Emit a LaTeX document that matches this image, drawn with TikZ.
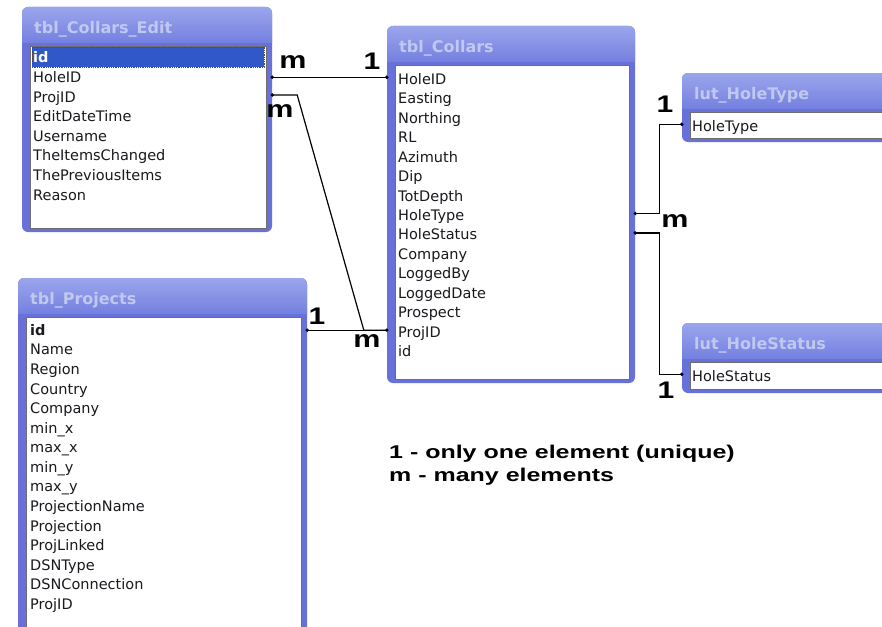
\documentclass[tikz,border=0pt]{standalone}
\usepackage{fontspec}
\setmainfont{DejaVu Sans}
\newfontfamily\legendfont{Liberation Sans}
\usetikzlibrary{fit,calc}
\definecolor{frameblue}{RGB}{104,112,218}
\definecolor{titletop}{RGB}{155,165,236}
\definecolor{titlebot}{RGB}{116,128,224}
\definecolor{titletext}{RGB}{192,200,240}
\definecolor{selblue}{RGB}{48,88,200}
\definecolor{fieldtext}{RGB}{25,25,30}
\definecolor{innerline}{RGB}{110,110,110}
\tikzset{
  fld/.style={anchor=base west, inner sep=0pt, text=fieldtext, text height=11pt, text depth=3pt,
              font=\fontsize{14.5}{17}\selectfont},
  ttl/.style={anchor=west, inner sep=0pt, text=titletext, font=\bfseries\fontsize{16}{19}\selectfont},
  card/.style={inner sep=0pt, font=\legendfont\bfseries\fontsize{24}{28}\selectfont},
  legend/.style={anchor=base west, inner sep=0pt, font=\legendfont\bfseries\fontsize{18.5}{22}\selectfont},
  conn/.style={draw=black, line width=1.2pt},
  enddot/.style={fill=black},
  frame/.style={inner sep=0pt, fill=frameblue, rounded corners=6pt}
}
\newcommand\dbtable[6]{%
  \node[frame, fit={(#2,#3)(#4,#5)}] (#1) {};
  \shade[top color=titletop, bottom color=titlebot]
     [rounded corners=6pt] (#2,#3+36) -- (#2,#3) -- (#4,#3) [sharp corners] -- (#4,#3+36) -- cycle;
  \draw[fill=white, draw=innerline, line width=0.8pt] (#2+8,#3+39) rectangle (#4-6,#5-4);
  \node[ttl] (#1title) at (#2+12,#3+22) {#6};
}
\begin{document}
\begin{tikzpicture}[x=1pt,y=-1pt]
\useasboundingbox (0,0) rectangle (882,626);
\clip (0,0) rectangle (882,626);
\fill[white] (0,0) rectangle (882,626);

% tables
\dbtable{ce}{22}{7}{272}{232}{tbl\_Collars\_Edit}
\dbtable{co}{387}{26}{635}{383}{tbl\_Collars}
\dbtable{ht}{682}{73}{895}{142}{lut\_HoleType}
\dbtable{hs}{682}{323}{895}{393}{lut\_HoleStatus}
\dbtable{pr}{18}{278}{307}{640}{tbl\_Projects}

% selected row in tbl_Collars_Edit
\fill[selblue] (32,47) rectangle (264,67);
\draw[densely dotted, draw=black!70, line width=0.8pt] (32,47) rectangle (264,67);

% fields tbl_Collars_Edit
\foreach \t [count=\i] in {id,HoleID,ProjID,EditDateTime,Username,TheItemsChanged,ThePreviousItems,Reason}{
  \ifnum\i=1
    \node[fld, text=white, font=\bfseries\fontsize{14.5}{17}\selectfont] (ce\i) at (33,62.8) {\t};
  \else
    \node[fld] (ce\i) at (33,{62.8+(\i-1)*19.6}) {\t};
  \fi
}
% fields tbl_Collars
\foreach \t [count=\i] in {HoleID,Easting,Northing,RL,Azimuth,Dip,TotDepth,HoleType,HoleStatus,Company,LoggedBy,LoggedDate,Prospect,ProjID,id}{
  \node[fld] (co\i) at (398,{84.3+(\i-1)*19.45}) {\t};
}
% fields tbl_Projects
\foreach \t [count=\i] in {id,Name,Region,Country,Company,min\_x,max\_x,min\_y,max\_y,ProjectionName,Projection,ProjLinked,DSNType,DSNConnection,ProjID}{
  \ifnum\i=1
    \node[fld, font=\bfseries\fontsize{14.5}{17}\selectfont] (pr\i) at (30,335.3) {\t};
  \else
    \node[fld] (pr\i) at (30,{335.3+(\i-1)*19.57}) {\t};
  \fi
}
% lookup fields
\node[fld] (ht1) at (692,131.3) {HoleType};
\node[fld] (hs1) at (692,381.3) {HoleStatus};

% link points
\coordinate (hl) at ($(co.west |- co1.center)+(0,-3)$);
\coordinate (pj) at ($(co.west |- co14.center)+(0,-3)$);
\coordinate (cp) at ($(ce.east |- ce3.center)+(0,-3)$);
\coordinate (tp) at ($(co.east |- co8.center)+(0,-3)$);
\coordinate (sp) at ($(co.east |- co9.center)+(0,-3)$);
\coordinate (tt) at ($(ht.west |- ht1.center)+(0,-3)$);
\coordinate (ss) at ($(hs.west |- hs1.center)+(0,-3)$);

% connectors
\draw[conn] (ce.east |- hl) -- (hl);
\draw[conn] (cp) -- ++(25,0) -- ($(pj)+(-23,0)$) -- (pj);
\draw[conn] (pr.east |- pj) -- (pj);
\draw[conn] (tp) -- ++(24,0) |- (tt);
\draw[conn] (sp) -- ++(24,0) |- (ss);

% end dots
\foreach \p in {hl,pj,cp,tp,sp,tt,ss}{ \fill[enddot] (\p) circle (1.9); }
\fill[enddot] (ce.east |- hl) circle (1.9);
\fill[enddot] (pr.east |- pj) circle (1.9);

% cardinality labels
\node[card] (c1) at (293,62) {\scalebox{1.27}[1]{m}};
\node[card] (c2) at (372,61) {\scalebox{1.25}[1]{1}};
\node[card] (c3) at (280,111) {\scalebox{1.27}[1]{m}};
\node[card] (c4) at (317,316) {\scalebox{1.25}[1]{1}};
\node[card] (c5) at (367,341) {\scalebox{1.27}[1]{m}};
\node[card] (c6) at (665,104) {\scalebox{1.25}[1]{1}};
\node[card] (c7) at (675,221) {\scalebox{1.27}[1]{m}};
\node[card] (c8) at (666,390) {\scalebox{1.25}[1]{1}};

% legend
\node[legend] (lg1) at (389,458) {\scalebox{1.35}[1]{1 - only one element (unique)}};
\node[legend] (lg2) at (389,481.5) {\scalebox{1.35}[1]{m - many elements}};
\end{tikzpicture}
\end{document}
